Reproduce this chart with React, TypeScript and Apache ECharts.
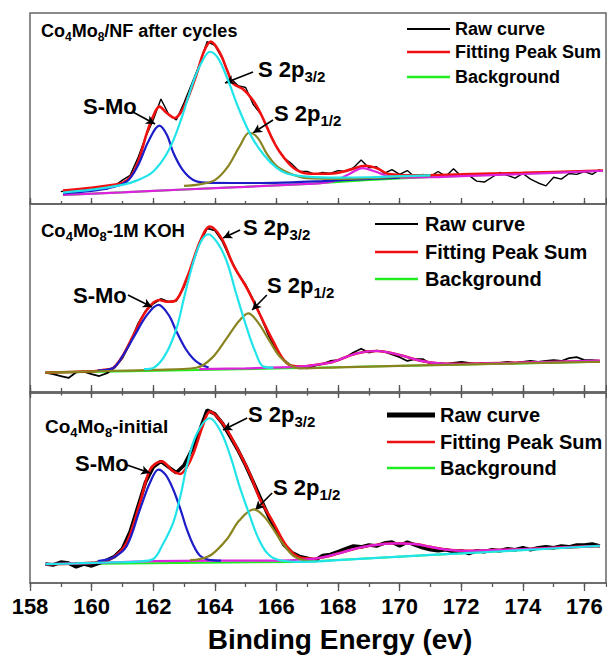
import React, { useEffect, useRef } from "react";
import * as echarts from "echarts";

// ---------- DATA ----------
const rawEnergy = [
  158.5, 158.75, 159.0, 159.25, 159.5, 159.75, 160.0, 160.25, 160.5, 160.75,
  161.0, 161.25, 161.5, 161.75, 162.0, 162.25, 162.5, 162.75, 163.0, 163.25,
  163.5, 163.75, 164.0, 164.25, 164.5, 164.75, 165.0, 165.25, 165.5, 165.75,
  166.0, 166.25, 166.5, 166.75, 167.0, 167.25, 167.5, 167.75, 168.0, 168.25,
  168.5, 168.75, 169.0, 169.25, 169.5, 169.75, 170.0, 170.25, 170.5, 170.75,
  171.0, 171.25, 171.5, 171.75, 172.0, 172.25, 172.5, 172.75, 173.0, 173.25,
  173.5, 173.75, 174.0, 174.25, 174.5, 174.75, 175.0, 175.25, 175.5, 175.75,
  176.0, 176.25, 176.5,
];

// Panel 1: Co4Mo8/NF after cycles
const topRaw = [
  null, null,
  6.5, 7.2, 6.8, 7.6, 8.0, 8.4, 8.0, 9.5, 12.5, 15,
  24, 35, 44, 55, 47, 44, 53, 63, 73, 85,
  83, 76, 66, 62, 61, 52, 47, 38, 30, 24,
  21, 17, 17, 15.5, 16.5, 16, 17.5, 17, 19, 23,
  19, 19.5, 16, 18, 15.5, 17.5, 14, 15.5, 14.5, 17,
  14.5, 18.5, 14.5, 15, 12, 11.5, 14, 16.5, 15, 13.5,
  16, 13, 11, 9.5, 14, 13, 16, 15.5, 17, 15.5, 18,
];
const topSum = [
  [159.07, 7], [160, 8.5], [160.6, 9.8], [161, 11], [161.3, 15], [161.55, 24], [161.79, 37],
  [162.0, 46], [162.2, 51], [162.45, 47.5], [162.7, 45], [162.9, 48], [163.09, 54], [163.41, 68],
  [163.65, 80], [163.87, 85], [164.17, 79], [164.4, 70], [164.6, 63], [164.93, 60], [165.25, 54],
  [165.5, 47], [165.7, 40], [165.9, 33], [166.12, 27], [166.55, 19], [167, 16], [167.5, 15.8],
  [167.84, 16], [168.4, 18], [168.88, 20], [169.3, 18.5], [169.58, 16], [170, 15.2], [170.55, 15],
  [172, 15.5], [174, 16.3], [176.6, 17.5],
];
const topSMo = [
  [159.07, 5.5], [160, 6.8], [160.6, 8.5], [161.14, 11.7], [161.5, 20], [161.85, 33], [162.2, 41],
  [162.45, 36], [162.65, 27], [162.95, 18], [163.3, 12.6], [163.7, 11.2], [164.6, 11], [165.5, 11],
  [166.5, 11.3], [167.5, 12], [168.5, 12.8], [170, 13.8],
];
const topS32 = [
  [159.07, 6], [160, 7.5], [161, 10], [161.5, 12.5], [162, 17], [162.5, 28], [162.9, 44],
  [163.3, 64], [163.6, 75], [163.84, 79.7], [164.1, 76.5], [164.4, 66], [164.8, 49], [165.2, 35],
  [165.6, 25.5], [166, 19], [166.33, 16], [167, 14.3], [168, 13.8], [169, 14], [170, 14.6], [171, 15],
];
const topS12 = [
  [163, 9.5], [163.5, 10.3], [164, 12.5], [164.4, 19], [164.8, 30], [165.12, 37.3], [165.4, 34.5],
  [165.68, 26.5], [166, 20], [166.44, 16], [167, 13.5], [168, 13.2], [169, 13.5], [170, 14.3], [171, 15],
];
const topExtra = [
  [159.07, 4.7], [161, 6.1], [163, 7.6], [165, 9], [167, 10.5], [167.6, 11.2], [167.96, 12.5],
  [168.4, 16], [168.8, 18.8], [169.2, 17], [169.7, 14.3], [170.2, 13.8], [171, 14], [172, 14.6],
  [174, 15.7], [176.6, 17.4],
];
const topBg = [[159.07, 4.7], [163, 7.6], [167, 10.5], [169, 12.6], [171, 14.1], [176.6, 17.4]];

// Panel 2: Co4Mo8-1M KOH
const midRaw = [
  10.3, 9.5, 8.5, 7.5, 10.5, 10.8, 9.5, 8.5, 10, 13,
  18, 26, 36, 43, 47, 49.5, 48, 48.5, 56, 67,
  79, 87, 86, 80, 71, 63, 57, 49, 40, 30,
  22, 17, 13.5, 13.5, 12.5, 14, 15, 16.5, 17, 18.5,
  21, 23, 21, 22, 21.5, 20, 18.5, 16.5, 17.5, 17.5,
  15, 15.5, 15, 15.5, 16, 15.5, 15, 15.5, 15, 15.5,
  16, 15.5, 16, 16.5, 16, 16.5, 17, 16.5, 18, 18.5,
  17, 17, 16.5,
];
const midSum = [
  [158.5, 10.3], [160, 11], [160.4, 11.8], [160.7, 12.8], [161.0, 19], [161.35, 30], [161.79, 43.6],
  [162.2, 48.9], [162.44, 48], [162.7, 48.4], [163.09, 60.5], [163.52, 80], [163.84, 88], [164.22, 81.7],
  [164.6, 67.5], [165.04, 55.3], [165.36, 44.7], [165.9, 26.8], [166.33, 15.4], [166.77, 13.5],
  [167.3, 14.5], [167.85, 16.1], [168.6, 20.5], [169.26, 21.8], [170, 19.7], [170.66, 16.7],
  [171.3, 15.2], [172, 15], [174, 15.7], [176.5, 16.4],
];
const midSMo = [
  [160.2, 11.5], [160.7, 12.8], [161.0, 19], [161.35, 28.7], [161.8, 41], [162.17, 46.3], [162.5, 41],
  [162.76, 32], [163.05, 23], [163.3, 17.7], [163.52, 14.9], [163.8, 13],
];
const midS32 = [
  [161.7, 12.2], [162.0, 12.8], [162.4, 20], [162.76, 34], [163.0, 50], [163.3, 69], [163.55, 80],
  [163.79, 83.9], [164.1, 79], [164.39, 69.3], [164.7, 52], [165.04, 34], [165.3, 22], [165.58, 13.5],
  [165.9, 13],
];
const midS12 = [
  [158.5, 10.3], [160, 11], [162, 11.8], [163.4, 12.9], [163.9, 18], [164.39, 28.7], [164.8, 38],
  [165.09, 41.8], [165.4, 37], [165.79, 26.8], [166.1, 19], [166.44, 14.4], [166.77, 12.6], [168, 13.1],
  [170, 13.9], [172, 14.6], [174, 15.3], [176.5, 16.1],
];
const midExtra = [
  [163.5, 12.2], [165, 12.6], [166.77, 13.5], [167.3, 14.5], [167.85, 16.1], [168.6, 20.5],
  [169.26, 21.8], [170, 19.7], [170.66, 16.7], [171.3, 15.2], [172, 14.9], [174, 15.6], [176.5, 16.7],
];
const midBg = [[158.5, 10.2], [166, 12.5], [176.5, 16.1]];

// Panel 3: Co4Mo8-initial
const botRaw = [
  10, 9.5, 11, 10.5, 8.5, 10, 9, 10.5, 12, 14,
  18, 27, 40, 53, 61, 64, 61, 58, 62, 70,
  80, 91, 89, 84, 77, 70, 62, 53, 44, 35,
  27, 20, 16, 14, 13, 12, 14.5, 15, 16.5, 18,
  19.5, 19, 20, 19.5, 21, 21.5, 19.5, 21.5, 20, 18.5,
  17.5, 17, 17.5, 16.5, 17, 15.5, 17, 16.5, 17.5, 17,
  18, 17.5, 18.5, 17.5, 18.5, 19, 18.5, 19.5, 19, 20,
  20, 20.5, 19.5,
];
const botSum = [
  [158.5, 9.9], [159.5, 10.3], [160.2, 11], [160.7, 13.4], [161.14, 21.3], [161.57, 42.2],
  [161.9, 59.7], [162.27, 64], [162.65, 58.8], [162.87, 57.4], [163.09, 61], [163.3, 68],
  [163.63, 83.7], [163.84, 90.2], [164.27, 83.7], [164.71, 71.4], [165.14, 57.4], [165.47, 44],
  [165.9, 31.8], [166.33, 19.5], [166.77, 13.4], [167.2, 12.8], [167.6, 13.8], [168, 15.5],
  [168.5, 17.8], [169, 19.5], [169.8, 20.9], [170.5, 20.5], [171, 19], [171.5, 17.6], [172.2, 16.9],
  [173, 17.3], [174, 17.8], [175, 18.5], [176.5, 19.5],
];
const botSMo = [
  [160.2, 11.5], [160.7, 13.4], [161.14, 19.5], [161.57, 38.7], [161.9, 53], [162.17, 59.7],
  [162.4, 57], [162.65, 49.2], [162.9, 38], [163.09, 28.3], [163.3, 20], [163.52, 14.3],
  [163.8, 12.2], [164.2, 11.8],
];
const botS32 = [
  [158.5, 9.9], [159.5, 10.3], [160.5, 10.8], [161.5, 11.3], [162, 12.6], [162.3, 20], [162.65, 31.8],
  [162.9, 47], [163.09, 61.4], [163.4, 78], [163.84, 86.7], [164.2, 79.5], [164.5, 67], [164.8, 51],
  [165.14, 35.2], [165.4, 24], [165.68, 16.1], [166, 12.5], [166.77, 11.1], [168, 12], [170, 13.9],
  [172, 15.6], [174, 17.3], [176.5, 19.5],
];
const botS12 = [
  [163.2, 12], [163.52, 12.6], [163.9, 15], [164.39, 23], [164.8, 33], [165.27, 38.7], [165.6, 35],
  [165.9, 28.3], [166.2, 21], [166.55, 14.3], [166.9, 12], [167.3, 11.5],
];
const botExtra = [
  [158.5, 9.9], [160, 10.5], [162, 11.5], [164, 11.8], [166, 11.8], [167, 12.5], [167.5, 13.5],
  [168, 15.5], [168.5, 17.8], [169, 19.5], [169.8, 20.9], [170.5, 20.5], [171, 19], [171.5, 17.6],
  [172.2, 16.9], [173, 17.3], [174, 17.8], [175, 18.5], [176.5, 19.5],
];
const botBg = [[158.5, 9.9], [166.77, 11.1], [176.5, 19.5]];

// annotation arrows (data coordinates: [from, to]) per panel: S-Mo, S 2p3/2, S 2p1/2
const topArrows = [
  [[161.34, 48.2], [162.06, 41.9]],
  [[165.24, 69.1], [164.33, 63.4]],
  [[165.89, 44.0], [165.24, 37.2]],
];
const midArrows = [
  [[161.18, 51.6], [161.96, 45.2]],
  [[164.82, 86.2], [164.27, 81.9]],
  [[165.69, 51.6], [165.21, 43.6]],
];
const botArrows = [
  [[161.15, 62.1], [161.9, 57.9]],
  [[165.05, 86.8], [164.27, 80.5]],
  [[165.86, 47.4], [165.31, 38.4]],
];

const legendNames = ["Raw curve", "Fitting Peak Sum", "Background"];
const panelTitles = [
  ["Co", "4", "Mo", "8", "/NF after cycles"],
  ["Co", "4", "Mo", "8", "-1M KOH"],
  ["Co", "4", "Mo", "8", "-initial"],
];
const xTicks = { min: 158, max: 176.7, major: 2, minor: 1 };
const xTitle = "Binding Energy (ev)";

// ---------- STYLE ----------
const FONT = '"Liberation Sans", Arial, Helvetica, sans-serif';
const C = {
  raw: "#000000",
  sum: "#f01010",
  bg: "#20ee20",
  smo: "#1c1cc8",
  s32: "#20e4ea",
  s12: "#8a8420",
  extra: "#dc22dc",
  axis: "#666666",
};

const grids = [
  { left: 30, top: 13, width: 576, height: 191 },
  { left: 30, top: 204, width: 576, height: 188 },
  { left: 30, top: 393, width: 576, height: 190 },
];

function App() {
  const ref = useRef<HTMLDivElement>(null);

  useEffect(() => {
    if (!ref.current) return;
    const chart = echarts.init(ref.current, undefined, { renderer: "svg" });

    const pair = (ys: (number | null)[]) => rawEnergy.map((x, i) => [x, ys[i]]);
    const majorIdx = [0, 2, 4];

    const line = (
      name: string,
      data: any[],
      g: number,
      color: string,
      width: number,
      z: number,
      smooth: number | boolean
    ) => ({
      type: "line",
      name,
      data,
      xAxisIndex: majorIdx[g],
      yAxisIndex: g,
      showSymbol: false,
      symbol: "none",
      smooth,
      connectNulls: false,
      z,
      silent: true,
      lineStyle: { color, width },
      itemStyle: { color },
    });

    const arrows = (g: number, arr: number[][][]) => ({
      type: "line",
      name: "annot" + g,
      data: [],
      xAxisIndex: majorIdx[g],
      yAxisIndex: g,
      silent: true,
      z: 20,
      markLine: {
        silent: true,
        symbol: ["none", "arrow"],
        symbolSize: [7, 9],
        label: { show: false },
        lineStyle: { color: "#000", width: 1.6, type: "solid" },
        data: arr.map((a) => [{ coord: a[0] }, { coord: a[1] }]),
      },
    });

    const panels = [
      { raw: topRaw, sum: topSum, smo: topSMo, s32: topS32, s12: topS12, extra: topExtra, bg: topBg, rawW: 1.4, arrows: topArrows },
      { raw: midRaw, sum: midSum, smo: midSMo, s32: midS32, s12: midS12, extra: midExtra, bg: midBg, rawW: 1.8, arrows: midArrows },
      { raw: botRaw, sum: botSum, smo: botSMo, s32: botS32, s12: botS12, extra: botExtra, bg: botBg, rawW: 3.6, arrows: botArrows },
    ];

    const series: any[] = [];
    panels.forEach((p, g) => {
      series.push(line(legendNames[2], p.bg, g, C.bg, 2, 2, false));
      series.push(line(legendNames[0], pair(p.raw), g, C.raw, p.rawW, 3, false));
      series.push(line(legendNames[1], p.sum, g, C.sum, 2.6, 4, 0.35));
      series.push(line("extra", p.extra, g, C.extra, 2.2, 5, 0.35));
      series.push(line("S-Mo", p.smo, g, C.smo, 2.2, 6, 0.35));
      series.push(line("S 2p1/2", p.s12, g, C.s12, 2.2, 7, 0.35));
      series.push(line("S 2p3/2", p.s32, g, C.s32, 2.2, 8, 0.35));
      series.push(arrows(g, p.arrows));
    });

    const xBase = (g: number, pos: string, interval: number, len: number, inside: boolean, showLine: boolean, labels: boolean) => ({
      type: "value",
      gridIndex: g,
      position: pos,
      min: xTicks.min,
      max: xTicks.max,
      interval,
      splitLine: { show: false },
      axisLine: { show: showLine, onZero: false, lineStyle: { color: C.axis, width: 1.5 } },
      axisTick: { show: true, inside, length: len, lineStyle: { color: "#555", width: 1.3 } },
      axisLabel: labels
        ? {
            show: true,
            margin: 12,
            color: "#000",
            fontSize: 22,
            fontWeight: "bold",
            fontFamily: FONT,
            showMaxLabel: false,
          }
        : { show: false },
    });

    const xAxes = [
      xBase(0, "bottom", xTicks.major, 6, true, true, false),
      xBase(0, "bottom", xTicks.minor, 3, true, false, false),
      xBase(1, "bottom", xTicks.major, 7, true, true, false),
      xBase(1, "bottom", xTicks.minor, 4, true, false, false),
      xBase(2, "bottom", xTicks.major, 8, false, true, true),
      xBase(2, "bottom", xTicks.minor, 4, false, false, false),
      xBase(2, "top", xTicks.major, 5, true, true, false),
      xBase(2, "top", xTicks.minor, 2.5, true, false, false),
    ];

    const yAxes = grids.map((_, g) => ({
      type: "value",
      gridIndex: g,
      min: 0,
      max: 100,
      show: false,
    }));

    // graphics: titles, peak labels, legends, x title
    const graphic: any[] = [];
    const titlePos = [
      { x: 41, y: 29, size: 18 },
      { x: 41, y: 228, size: 18.5 },
      { x: 45, y: 424, size: 19 },
    ];
    panelTitles.forEach((t, i) => {
      const p = titlePos[i];
      const lh = Math.round(p.size * 1.34);
      const subSize = Math.round(p.size * 0.68);
      const m = { fontSize: p.size, fontWeight: "bold", fontFamily: FONT, fill: "#000", lineHeight: lh };
      const s = { fontSize: subSize, fontWeight: "bold", fontFamily: FONT, fill: "#000", verticalAlign: "bottom", lineHeight: subSize };
      graphic.push({
        type: "text",
        x: p.x,
        y: p.y + 2,
        z: 50,
        style: {
          text: `{m|${t[0]}}{s|${t[1]}}{m|${t[2]}}{s|${t[3]}}{m|${t[4]}}`,
          rich: { m, s },
          align: "left",
          verticalAlign: "middle",
        },
      });
    });

    const peakLabels = [
      [{ x: 83, y: 106 }, { x: 258, y: 69 }, { x: 274, y: 113 }],
      [{ x: 73, y: 295 }, { x: 243, y: 227 }, { x: 267, y: 285 }],
      [{ x: 75, y: 463 }, { x: 248, y: 414 }, { x: 273, y: 487 }],
    ];
    const lm = { fontSize: 22, fontWeight: "bold", fontFamily: FONT, fill: "#000", lineHeight: 30 };
    const ls = { fontSize: 15, fontWeight: "bold", fontFamily: FONT, fill: "#000", verticalAlign: "bottom", lineHeight: 15 };
    peakLabels.forEach((pl) => {
      const texts = ["{m|S-Mo}", "{m|S 2p}{s|3/2}", "{m|S 2p}{s|1/2}"];
      pl.forEach((p, k) => {
        graphic.push({
          type: "text",
          x: p.x,
          y: p.y,
          z: 50,
          style: { text: texts[k], rich: { m: lm, s: ls }, align: "left", verticalAlign: "middle" },
        });
      });
    });

    const legends = [
      { x1: 407, x2: 450, tx: 455, ys: [29, 52, 77], size: 18, rawW: 2 },
      { x1: 375, x2: 418, tx: 425, ys: [224, 252, 279], size: 20, rawW: 2.2 },
      { x1: 387, x2: 435, tx: 440, ys: [415, 442, 468], size: 20, rawW: 5 },
    ];
    const legColors = [C.raw, C.sum, C.bg];
    legends.forEach((L) => {
      legendNames.forEach((n, k) => {
        graphic.push({
          type: "line",
          z: 50,
          shape: { x1: L.x1, y1: L.ys[k], x2: L.x2, y2: L.ys[k] },
          style: { stroke: legColors[k], lineWidth: k === 0 ? L.rawW : 2.4 },
        });
        graphic.push({
          type: "text",
          z: 50,
          x: L.tx,
          y: L.ys[k],
          style: {
            text: n,
            font: `bold ${L.size}px ${FONT}`,
            fill: "#000",
            align: "left",
            verticalAlign: "middle",
          },
        });
      });
    });

    graphic.push({
      type: "text",
      z: 50,
      x: 340,
      y: 639,
      style: {
        text: xTitle,
        font: `bold 28px ${FONT}`,
        fill: "#000",
        align: "center",
        verticalAlign: "middle",
      },
    });

    chart.setOption({
      animation: false,
      backgroundColor: "#ffffff",
      grid: grids.map((g) => ({
        ...g,
        show: true,
        borderColor: C.axis,
        borderWidth: 1.5,
        backgroundColor: "transparent",
        containLabel: false,
      })),
      xAxis: xAxes,
      yAxis: yAxes,
      series,
      graphic,
    });

    return () => chart.dispose();
  }, []);

  return (
    <div
      ref={ref}
      style={{ position: "absolute", left: 0, top: 0, width: 607, height: 657, background: "#fff" }}
    />
  );
}

export default App;
